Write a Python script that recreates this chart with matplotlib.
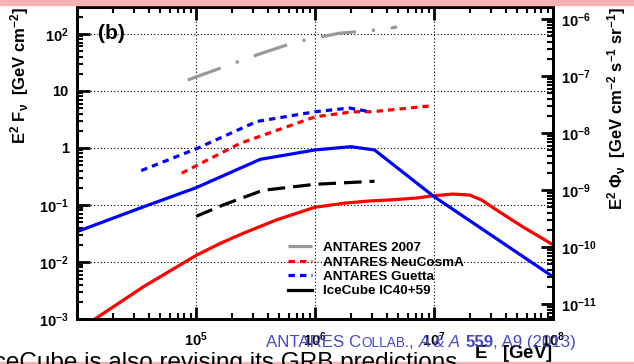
import matplotlib.pyplot as plt
import numpy as np
from matplotlib.lines import Line2D

plt.rcParams['font.family'] = ['Liberation Sans', 'DejaVu Sans']
plt.rcParams['mathtext.fontset'] = 'custom'
plt.rcParams['mathtext.rm'] = 'Liberation Sans'
plt.rcParams['mathtext.bf'] = 'Liberation Sans:bold'
plt.rcParams['mathtext.it'] = 'Liberation Sans:italic'
plt.rcParams['mathtext.default'] = 'bf'

# log10(E/GeV), flux E^2 F in GeV cm^-2
antares07_logE = [4.93, 5.53, 5.84, 6.20, 6.58, 6.69]
antares07_flux = [15.5, 44, 72, 102, 120, 132]

neucosma_logE = [4.88, 5.37, 6.0, 6.32, 6.48, 6.99]
neucosma_flux = [0.36, 1.2, 3.5, 4.3, 4.3, 5.5]

guetta_logE = [4.54, 5.0, 5.51, 6.0, 6.29, 6.46]
guetta_flux = [0.40, 0.96, 2.9, 4.3, 5.0, 4.3]

icecube_logE = [5.0, 5.23, 5.56, 6.0, 6.5]
icecube_flux = [0.063, 0.10, 0.18, 0.23, 0.26]

blue_logE = [4.0, 4.53, 5.0, 5.54, 6.0, 6.30, 6.50, 7.0, 8.0]
blue_flux = [0.034, 0.088, 0.20, 0.63, 0.92, 1.05, 0.92, 0.14, 0.0055]

red_logE = [4.10, 4.56, 5.0, 5.2, 5.4, 5.68, 6.0, 6.24, 6.45, 6.65, 6.85, 7.0, 7.16,
            7.30, 7.40, 7.52, 7.63, 7.74, 8.0]
red_flux = [8.5e-4, 3.7e-3, 0.013, 0.021, 0.032, 0.055, 0.091, 0.107, 0.117, 0.123,
            0.132, 0.145, 0.155, 0.149, 0.122, 0.083, 0.059, 0.042, 0.020]

conv = 10 ** -8.26  # E^2 F  ->  E^2 Phi  [GeV cm^-2 s^-1 sr^-1]

fig = plt.figure(figsize=(6.34, 3.64), dpi=100)
ax = fig.add_axes([77 / 634, 1 - 319 / 364, 476 / 634, 312 / 364])

lw = 2.3
ax.plot(10 ** np.array(red_logE), red_flux, color='#ff0000', lw=lw)
ax.plot(10 ** np.array(blue_logE), blue_flux, color='#0000ff', lw=lw)
ax.plot(10 ** np.array(antares07_logE), antares07_flux, color='#999999', lw=lw,
        dashes=(11, 5, 1, 5))
ax.plot(10 ** np.array(neucosma_logE), neucosma_flux, color='#ff0000', lw=lw, dashes=(2, 1.6))
ax.plot(10 ** np.array(guetta_logE), guetta_flux, color='#0000ff', lw=lw, dashes=(2, 1.6))
ax.plot(10 ** np.array(icecube_logE), icecube_flux, color='black', lw=lw, dashes=(5.5, 2.5))

ax.set_xscale('log')
ax.set_yscale('log')
ax.set_xlim(1e4, 1e8)
ax.set_ylim(1e-3, 10 ** 2.47)

for s in ax.spines.values():
    s.set_linewidth(2)

ax.grid(True, which='major', ls=(0, (1, 2)), lw=0.8, color='black')
ax.set_xticks([1e4, 1e5, 1e6, 1e7, 1e8])
ax.set_xticklabels(['', r'$10^{5}$', r'$10^{6}$', r'$10^{7}$', r'$10^{8}$'])
ax.set_yticks([1e-3, 1e-2, 1e-1, 1, 10, 1e2])
ax.set_yticklabels([r'$10^{-3}$', r'$10^{-2}$', r'$10^{-1}$', '1', '10', r'$10^{2}$'])
ax.tick_params(which='major', direction='in', length=9, width=2, labelsize=10.5,
               top=True, right=False, pad=6)
ax.tick_params(which='minor', direction='in', length=4.5, width=1.5, top=True, right=False)
ax.tick_params(axis='x', pad=8)
for lab in ax.get_yticklabels() + ax.get_xticklabels():
    lab.set_fontweight('bold')

ax.set_ylabel(r'$\mathbf{E^{2}\ F_{\nu}\ \ [GeV\ cm^{-2}]}$', loc='top', fontsize=12, labelpad=6)
ax.set_xlabel(r'$\mathbf{E\ \ \ [GeV]}$', loc='right', fontsize=13.5)
ax.xaxis.set_label_coords(1.0, -0.078)

ax2 = ax.twinx()
ax2.set_yscale('log')
ax2.set_ylim(1e-3 * conv, 10 ** 2.47 * conv)
ax2.set_yticks([1e-11, 1e-10, 1e-9, 1e-8, 1e-7, 1e-6])
ax2.set_yticklabels([r'$10^{-11}$', r'$10^{-10}$', r'$10^{-9}$', r'$10^{-8}$',
                     r'$10^{-7}$', r'$10^{-6}$'])
ax2.tick_params(which='major', direction='in', length=9, width=2, labelsize=10.5, pad=6)
ax2.tick_params(which='minor', direction='in', length=4.5, width=1.5)
ax2.set_ylabel(r'$\mathbf{E^{2}\ \Phi_{\nu}\ \ [GeV\ cm^{-2}\ s^{-1}\ sr^{-1}]}$', loc='top',
               fontsize=12, labelpad=6)
for s in ax2.spines.values():
    s.set_linewidth(2)

ax.text(0.045, 0.915, '(b)', transform=ax.transAxes, fontsize=15, fontweight='bold',
        va='center')

handles = [
    Line2D([], [], color='#999999', lw=lw, dashes=(11, 5, 1, 5)),
    Line2D([], [], color='#ff0000', lw=lw, dashes=(2, 1.6)),
    Line2D([], [], color='#0000ff', lw=lw, dashes=(2, 1.6)),
    Line2D([], [], color='black', lw=lw),
]
labels = ['ANTARES 2007', 'ANTARES NeuCosmA', 'ANTARES Guetta', 'IceCube IC40+59']
leg = ax.legend(handles, labels, loc='upper left', bbox_to_anchor=(0.443, 0.248),
                frameon=False, prop={'weight': 'bold', 'size': 9.7},
                handlelength=1.8, handletextpad=0.8, labelspacing=0.15, borderpad=0,
                borderaxespad=0)
leg.set_zorder(5)

# slide decorations
fig.patches.append(plt.Rectangle((0, 1 - 5 / 364), 1, 5 / 364, transform=fig.transFigure,
                                 color='#f5b3b3', zorder=0))
fig.patches.append(plt.Rectangle((0, 0), 1, 2 / 364, transform=fig.transFigure,
                                 color='#f5b3b3', zorder=0))
fig.text(-13 / 634, -5 / 364, 'IceCube is also revising its GRB predictions', fontsize=17.5,
         va='baseline', ha='left')

# citation, built from pieces
cite = [('ANTARES C', 12.2, 'normal', 'normal'), ('OLLAB.', 9.8, 'normal', 'normal'),
        (', ', 12.2, 'normal', 'normal'), ('A & A', 12.2, 'normal', 'italic'),
        (' ', 12.2, 'normal', 'normal'), ('559', 12.2, 'bold', 'normal'),
        (', A9 (2013)', 12.2, 'normal', 'normal')]
renderer = fig.canvas.get_renderer()
xpix = 266
for txt, size, weight, style in cite:
    t = fig.text(xpix / 634, 1 - 347 / 364, txt, fontsize=size, fontweight=weight,
                 fontstyle=style, color='#4848c8', va='baseline', ha='left')
    xpix = t.get_window_extent(renderer).x1

fig.savefig('out.png', dpi=100)
